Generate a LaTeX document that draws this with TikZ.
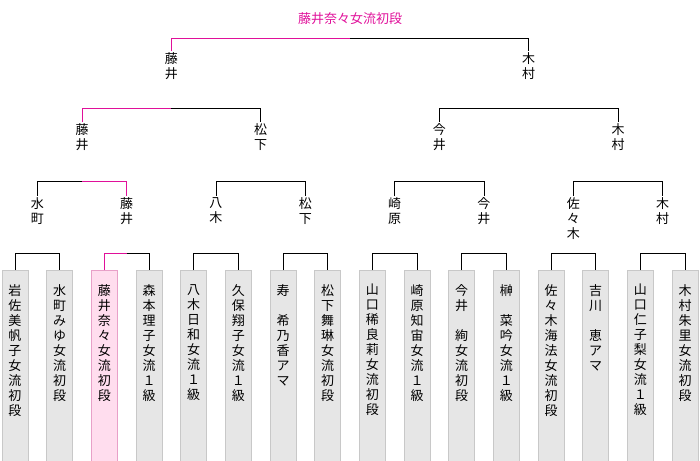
\documentclass[tikz,border=0pt]{standalone}
\usepackage{fontspec}
\setmainfont{Noto Sans CJK JP}
\usetikzlibrary{calc}
\definecolor{win}{HTML}{E0109A}
\definecolor{boxg}{HTML}{E6E6E6}
\definecolor{boxb}{HTML}{C8C8C8}
\definecolor{pinkf}{HTML}{FFDDEE}
\definecolor{pinkb}{HTML}{E8A0C8}
\newcommand\brk[5]{%
  \draw[#4] (#1) -- (#1 |- #3) -- ($(#1 |- #3)!.5!(#2 |- #3)$);
  \draw[#5] ($(#1 |- #3)!.5!(#2 |- #3)$) -- (#2 |- #3) -- (#2);}
\begin{document}
\begin{tikzpicture}[x=1pt,y=-1pt,
  box/.style={draw=boxb,fill=boxg,minimum width=26pt,minimum height=194pt,anchor=north,inner sep=0pt},
  pbox/.style={box,draw=pinkb,fill=pinkf},
  vt/.style={anchor=north,align=center,inner sep=1pt,font=\fontsize{13}{15}\selectfont},
  nm/.style={vt},
  bl/.style={black,line width=0.8pt},
  pk/.style={win,line width=0.8pt}]
\useasboundingbox (0,0) rectangle (700,460);
\coordinate (y1) at (0,253);
\coordinate (y2) at (0,181);
\coordinate (y3) at (0,108);
\coordinate (y4) at (0,38);
\foreach \i/\t in {0/{岩\\佐\\美\\帆\\子\\女\\流\\初\\段},1/{水\\町\\み\\ゆ\\女\\流\\初\\段},
 3/{森\\本\\理\\子\\女\\流\\１\\級},4/{八\\木\\日\\和\\女\\流\\１\\級},5/{久\\保\\翔\\子\\女\\流\\１\\級},
 6/{寿\\\mbox{}\\希\\乃\\香\\ア\\マ},7/{松\\下\\舞\\琳\\女\\流\\初\\段},8/{山\\口\\稀\\良\\莉\\女\\流\\初\\段},
 9/{崎\\原\\知\\宙\\女\\流\\１\\級},10/{今\\井\\\mbox{}\\絢\\女\\流\\初\\段},11/{榊\\\mbox{}\\菜\\吟\\女\\流\\１\\級},
 12/{佐\\々\\木\\海\\法\\女\\流\\初\\段},13/{吉\\川\\\mbox{}\\恵\\ア\\マ},14/{山\\口\\仁\\子\\梨\\女\\流\\１\\級},
 15/{木\\村\\朱\\里\\女\\流\\初\\段}}{
  \node[box] (b\i) at ({15+44.667*\i},270) {};
  \node[vt] (t\i) at ({15+44.667*\i},283) {\t};
}
\node[pbox] (b2) at ({15+44.667*2},270) {};
\node[vt] (t2) at ({15+44.667*2},283) {藤\\井\\奈\\々\\女\\流\\初\\段};
% level 1 names
\foreach \k/\t in {0/{水\\町},1/{藤\\井},2/{八\\木},3/{松\\下},4/{崎\\原},5/{今\\井},6/{佐\\々\\木},7/{木\\村}}{
  \node[nm] (n1\k) at ({37.33+89.33*\k},196) {\t};
}
\foreach \k/\t in {0/{藤\\井},1/{松\\下},2/{今\\井},3/{木\\村}}{
  \node[nm] (n2\k) at ({82+178.67*\k},122) {\t};
}
\foreach \k/\t in {0/{藤\\井},1/{木\\村}}{
  \node[nm] (n3\k) at ({171.33+357.33*\k},51) {\t};
}
\node[font=\fontsize{13}{15}\selectfont,text=win] (champ) at (350,19) {藤井奈々女流初段};
% level 1 brackets
\brk{b0.north}{b1.north}{y1}{bl}{bl}
\brk{b2.north}{b3.north}{y1}{pk}{bl}
\brk{b4.north}{b5.north}{y1}{bl}{bl}
\brk{b6.north}{b7.north}{y1}{bl}{bl}
\brk{b8.north}{b9.north}{y1}{bl}{bl}
\brk{b10.north}{b11.north}{y1}{bl}{bl}
\brk{b12.north}{b13.north}{y1}{bl}{bl}
\brk{b14.north}{b15.north}{y1}{bl}{bl}
% level 2
\brk{n10.north}{n11.north}{y2}{bl}{pk}
\brk{n12.north}{n13.north}{y2}{bl}{bl}
\brk{n14.north}{n15.north}{y2}{bl}{bl}
\brk{n16.north}{n17.north}{y2}{bl}{bl}
% level 3
\brk{n20.north}{n21.north}{y3}{pk}{bl}
\brk{n22.north}{n23.north}{y3}{bl}{bl}
% final
\brk{n30.north}{n31.north}{y4}{pk}{bl}
\end{tikzpicture}
\end{document}
